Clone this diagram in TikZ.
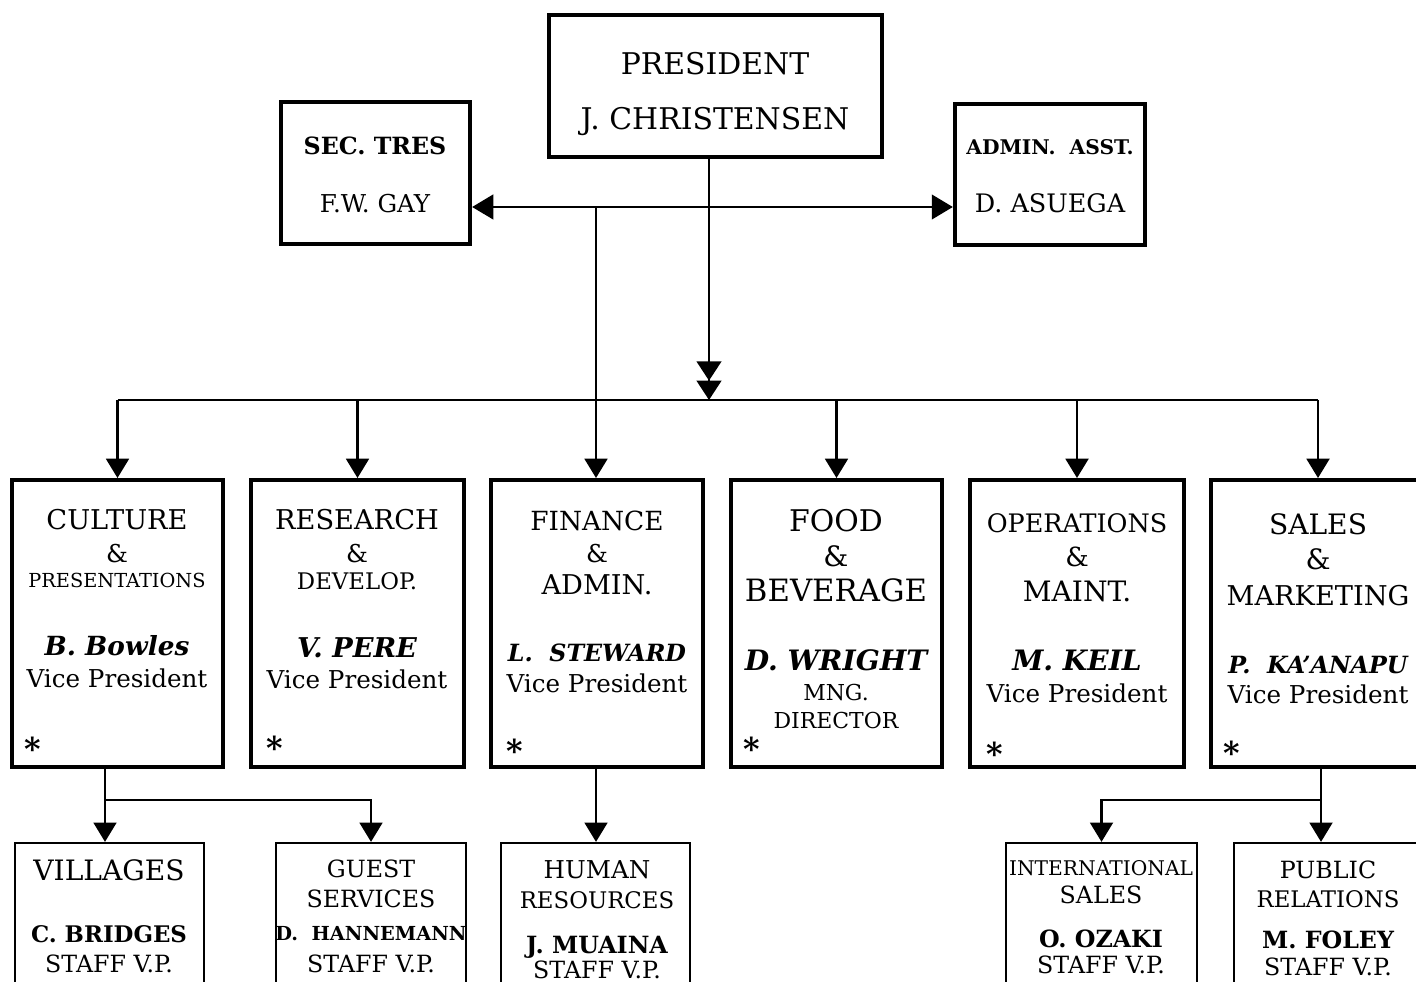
\documentclass[tikz,border=0pt]{standalone}
\usepackage{fontspec}
\setmainfont{DejaVu Serif}
\usetikzlibrary{arrows.meta}
\newcommand{\fs}[1]{\fontsize{#1}{#1}\selectfont}
\newcommand{\bi}{\bfseries\itshape}

\begin{document}
\begin{tikzpicture}[x=0.02cm,y=-0.02cm]
\tikzstyle{topbox}=[draw, line width=2.5pt, inner sep=0pt, minimum height=2.84cm]
\tikzstyle{vpbox}=[draw, line width=2.3pt, inner sep=0pt, minimum height=5.74cm]
\tikzstyle{staffbox}=[draw, line width=1.3pt, inner sep=0pt, minimum height=3.8cm]
\tikzstyle{txt}=[anchor=base, inner sep=0pt]
\tikzstyle{star}=[inner sep=0pt, font=\fs{18pt}\bfseries]
\tikzstyle{conn}=[line width=1.4pt]
\tikzstyle{tri}=[-{Triangle[width=13pt,length=11pt]}]
\useasboundingbox (0,0) rectangle (1416,982);
\clip (0,0) rectangle (1416,982);
\fill[white] (0,0) rectangle (1416,982);

\node[topbox, minimum width=6.66cm] (pres) at (715.5,86) {};
\node[topbox, minimum width=3.78cm] (sec) at (375.5,173) {};
\node[topbox, minimum width=3.80cm, minimum height=2.82cm] (adm) at (1050,174.5) {};
\node[txt, font=\fs{17pt}] (presA) at (715,75) {PRESIDENT};
\node[txt, font=\fs{17pt}] (presB) at (715,130) {J. CHRISTENSEN};
\node[txt, font=\fs{13.5pt}\bfseries] (secA) at (375,155) {SEC. TRES};
\node[txt, font=\fs{14pt}] (secB) at (375,213) {F.W. GAY};
\node[txt, font=\fs{11.5pt}\bfseries] (admA) at (1050,155) {ADMIN.\ \ ASST.};
\node[txt, font=\fs{14.5pt}] (admB) at (1050,213) {D. ASUEGA};

\node[vpbox, minimum width=4.22cm] (cul) at (117.5,623.5) {};
\node[vpbox, minimum width=4.26cm] (res) at (357.5,623.5) {};
\node[vpbox, minimum width=4.24cm] (fin) at (597,623.5) {};
\node[vpbox, minimum width=4.22cm] (foo) at (836.5,623.5) {};
\node[vpbox, minimum width=4.28cm] (ope) at (1077,623.5) {};
\node[vpbox, minimum width=4.28cm] (sal) at (1318,623.5) {};

\node[txt, font=\fs{15.5pt}] (culA) at (117,530) {CULTURE};
\node[txt, font=\fs{14pt}] (culB) at (117,563) {\&};
\node[txt, font=\fs{11pt}] (culC) at (117,588) {PRESENTATIONS};
\node[txt, font=\fs{15pt}\bi] (culD) at (117,655) {B. Bowles};
\node[txt, font=\fs{14pt}] (culE) at (117,687) {Vice President};
\node[star] (culS) at (33,749) {*};

\node[txt, font=\fs{15.5pt}] (resA) at (357,530) {RESEARCH};
\node[txt, font=\fs{14pt}] (resB) at (357,563) {\&};
\node[txt, font=\fs{13pt}] (resC) at (357,590) {DEVELOP.};
\node[txt, font=\fs{15.5pt}\bi] (resD) at (357,657) {V. PERE};
\node[txt, font=\fs{14pt}] (resE) at (357,688) {Vice President};
\node[star] (resS) at (275,748) {*};

\node[txt, font=\fs{15pt}] (finA) at (597,531) {FINANCE};
\node[txt, font=\fs{14pt}] (finB) at (597,563) {\&};
\node[txt, font=\fs{15.5pt}] (finC) at (597,595) {ADMIN.};
\node[txt, font=\fs{13.5pt}\bi] (finD) at (597,662) {L.\ \ STEWARD};
\node[txt, font=\fs{14pt}] (finE) at (597,692) {Vice President};
\node[star] (finS) at (515,751) {*};

\node[txt, font=\fs{17pt}] (fooA) at (836,532) {FOOD};
\node[txt, font=\fs{16pt}] (fooB) at (836,567) {\&};
\node[txt, font=\fs{17.5pt}] (fooC) at (836,602) {BEVERAGE};
\node[txt, font=\fs{16pt}\bi] (fooD) at (836,670) {D. WRIGHT};
\node[txt, font=\fs{12.5pt}] (fooE) at (836,700) {MNG.};
\node[txt, font=\fs{12.5pt}] (fooF) at (836,728) {DIRECTOR};
\node[star] (fooS) at (752,749) {*};

\node[txt, font=\fs{14.5pt}] (opeA) at (1077,533) {OPERATIONS};
\node[txt, font=\fs{15pt}] (opeB) at (1077,567) {\&};
\node[txt, font=\fs{16pt}] (opeC) at (1077,602) {MAINT.};
\node[txt, font=\fs{16pt}\bi] (opeD) at (1077,670) {M. KEIL};
\node[txt, font=\fs{14pt}] (opeE) at (1077,702) {Vice President};
\node[star] (opeS) at (995,754) {*};

\node[txt, font=\fs{16pt}] (salA) at (1318,535) {SALES};
\node[txt, font=\fs{16pt}] (salB) at (1318,570) {\&};
\node[txt, font=\fs{15.5pt}] (salC) at (1318,605) {MARKETING};
\node[txt, font=\fs{13.5pt}\bi] (salD) at (1318,673) {P.\ \ KA'ANAPU};
\node[txt, font=\fs{14pt}] (salE) at (1318,703) {Vice President};
\node[star] (salS) at (1232,753) {*};

\node[staffbox, minimum width=3.78cm] (vil) at (109.5,938) {};
\node[staffbox, minimum width=3.80cm] (gue) at (371,938) {};
\node[staffbox, minimum width=3.78cm] (hum) at (595.5,938) {};
\node[staffbox, minimum width=3.82cm] (int) at (1101.5,938) {};
\node[staffbox, minimum width=3.76cm] (pub) at (1328,938) {};

\node[txt, font=\fs{16pt}] (vilA) at (109,880) {VILLAGES};
\node[txt, font=\fs{13pt}\bfseries] (vilB) at (109,942) {C. BRIDGES};
\node[txt, font=\fs{13.5pt}] (vilC) at (109,972) {STAFF V.P.};

\node[txt, font=\fs{13.5pt}] (gueA) at (371,877) {GUEST};
\node[txt, font=\fs{13.5pt}] (gueB) at (371,907) {SERVICES};
\node[txt, font=\fs{11pt}\bfseries] (gueC) at (371,940) {D.\ \ HANNEMANN};
\node[txt, font=\fs{13.5pt}] (gueD) at (371,972) {STAFF V.P.};

\node[txt, font=\fs{14pt}] (humA) at (597,878) {HUMAN};
\node[txt, font=\fs{13pt}] (humB) at (597,908) {RESOURCES};
\node[txt, font=\fs{13.5pt}\bfseries] (humC) at (597,953) {J. MUAINA};
\node[txt, font=\fs{13.5pt}] (humD) at (597,978) {STAFF V.P.};

\node[txt, font=\fs{11.5pt}] (intA) at (1101,875) {INTERNATIONAL};
\node[txt, font=\fs{13.5pt}] (intB) at (1101,903) {SALES};
\node[txt, font=\fs{13.5pt}\bfseries] (intC) at (1101,947) {O. OZAKI};
\node[txt, font=\fs{13.5pt}] (intD) at (1101,973) {STAFF V.P.};

\node[txt, font=\fs{13.5pt}] (pubA) at (1328,878) {PUBLIC};
\node[txt, font=\fs{13pt}] (pubB) at (1328,907) {RELATIONS};
\node[txt, font=\fs{13.5pt}\bfseries] (pubC) at (1328,948) {M. FOLEY};
\node[txt, font=\fs{13.5pt}] (pubD) at (1328,975) {STAFF V.P.};

\coordinate (hub) at (709,400);
\coordinate (side) at (596,207);
\coordinate (cj) at (105,800);
\coordinate (sj) at (1321,800);

\draw[conn, {Triangle[width=14pt,length=12pt]}-{Triangle[width=14pt,length=12pt]}] (sec.east |- side) -- (adm.west |- side);
\draw[conn, -{Triangle[width=14pt,length=11pt] Triangle[width=14pt,length=11pt]}] (pres.south -| hub) -- (hub);
\draw[conn] (cul.north |- hub) -- (sal.north |- hub);
\draw[conn, tri] (side) -- (side |- fin.north);
\foreach \b in {cul,res,foo,ope,sal}
    \draw[conn, tri] (\b.north |- hub) -- (\b.north);

\draw[conn] (cul.south -| cj) -- (cj);
\draw[conn, tri] (cj) -- (cj |- vil.north);
\draw[conn, tri] (cj) -| (gue.north);
\draw[conn, tri] (fin.south -| side) -- (side |- hum.north);
\draw[conn] (sal.south -| sj) -- (sj);
\draw[conn, tri] (sj) -- (sj |- pub.north);
\draw[conn, tri] (sj) -| (int.north);
\end{tikzpicture}
\end{document}
